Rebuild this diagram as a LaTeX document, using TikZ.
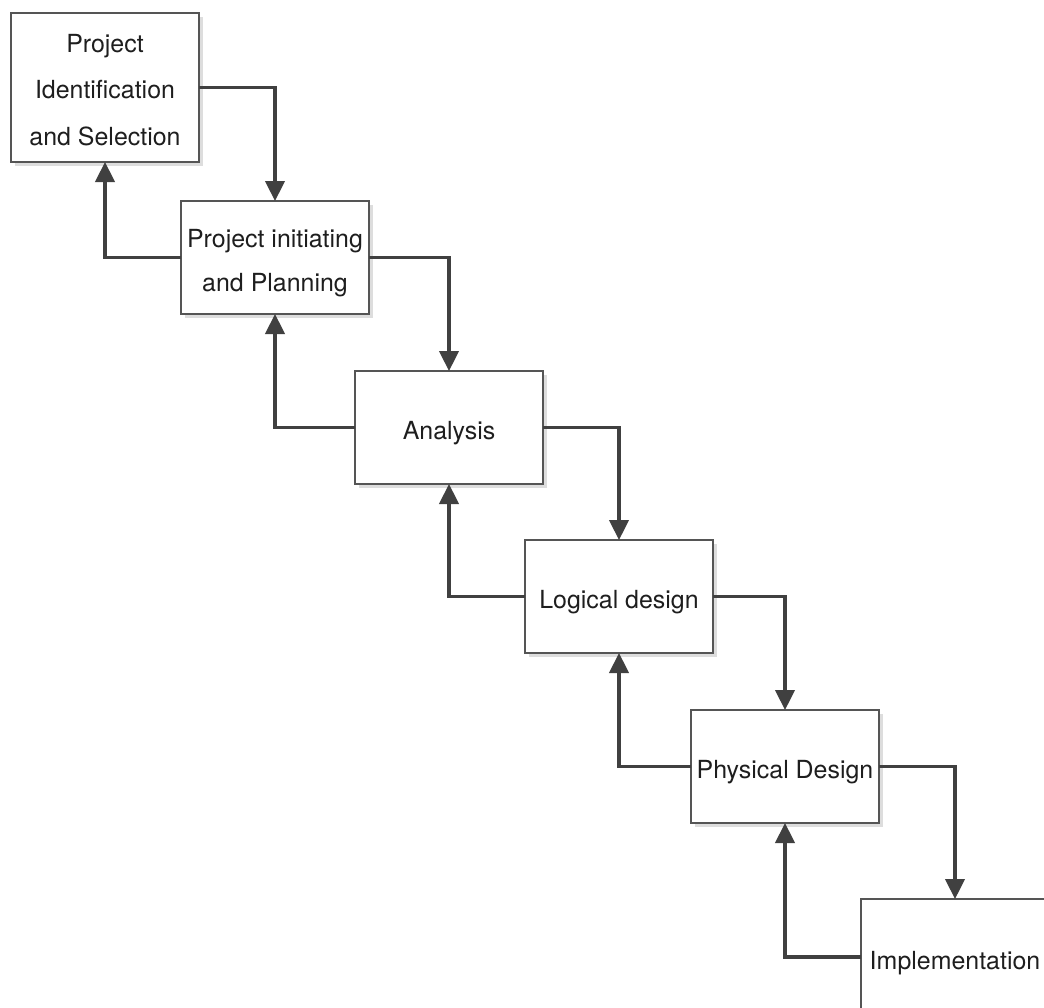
\documentclass[tikz,border=0pt]{standalone}
\usepackage{fontspec}
\setmainfont{TeX Gyre Heros}
\usetikzlibrary{arrows.meta,shadows}
\definecolor{linegray}{HTML}{404040}
\definecolor{boxgray}{HTML}{555555}
\definecolor{shadowgray}{HTML}{DDDDDD}
\definecolor{textgray}{HTML}{1E1E1E}
\begin{document}
\begin{tikzpicture}[x=0.75pt,y=-0.75pt,
  stage/.style={draw=boxgray, line width=1.1pt, fill=white, outer sep=0pt,
    inner sep=0pt, minimum width=141pt, minimum height=84.75pt,
    drop shadow={shadow xshift=3pt, shadow yshift=-3pt, fill=shadowgray, opacity=1}},
  caption/.style={align=center, text=textgray, inner sep=0pt,
    font=\fontsize{18.7}{34}\selectfont, yshift=-4.3pt},
  flow/.style={draw=linegray, line width=2.3pt,
    -{Triangle[length=15pt,width=14.5pt]}}]
\useasboundingbox (0,0) rectangle (1044,1007);
\clip (0,0) rectangle (1044,1007);
% the six phases, stepping down to the right
\node[stage, minimum height=111.75pt,
  label={[caption, name=ident-t, yshift=2.5pt, font=\fontsize{18.7}{35}\selectfont]center:{Project\\Identification\\and Selection}}]
  (ident) at (105,87.5) {};
\node[stage,
  label={[caption, name=plan-t, font=\fontsize{18.7}{32.5}\selectfont]center:{Project initiating\\and Planning}}]
  (plan) at (275,257.5) {};
\node[stage, label={[caption, name=anal-t]center:Analysis}] (anal) at (449,427.5) {};
\node[stage, label={[caption, name=logic-t]center:Logical design}] (logic) at (619,596.5) {};
\node[stage, label={[caption, name=phys-t]center:Physical Design}] (phys) at (785,766.5) {};
\node[stage, minimum height=87pt, label={[caption, name=impl-t]center:Implementation}] (impl) at (955,957) {};
% forward flow into the next phase
\draw[flow] (ident.east) -| (plan.north);
\draw[flow] (plan.east) -| (anal.north);
\draw[flow] (anal.east) -| (logic.north);
\draw[flow] (logic.east) -| (phys.north);
\draw[flow] (phys.east) -| (impl.north);
% feedback to the previous phase
\draw[flow] (plan.west) -| (ident.south);
\draw[flow] (anal.west) -| (plan.south);
\draw[flow] (logic.west) -| (anal.south);
\draw[flow] (phys.west) -| (logic.south);
\draw[flow] (impl.west) -| (phys.south);
\end{tikzpicture}
\end{document}
